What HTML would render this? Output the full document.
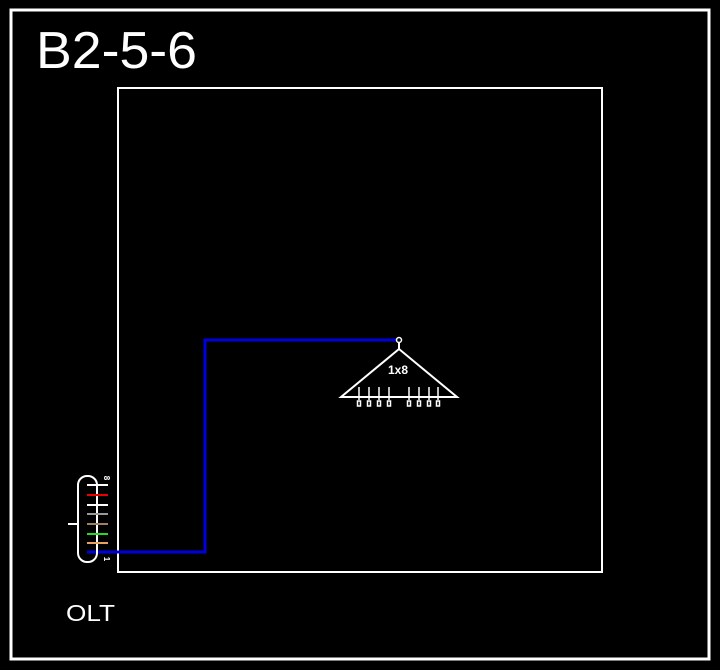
<!DOCTYPE html>
<html><head><style>body{margin:0;background:#000}</style></head><body>
<svg width="720" height="670" xmlns="http://www.w3.org/2000/svg" style="display:block">
<rect x="0" y="0" width="720" height="670" fill="#000"/>
<rect x="11" y="10" width="698" height="649" fill="none" stroke="#fff" stroke-width="3"/>
<text x="36" y="68" font-family="Liberation Sans, sans-serif" font-size="52" fill="#fff" textLength="161" lengthAdjust="spacingAndGlyphs">B2-5-6</text>
<rect x="118" y="88" width="484" height="484" fill="none" stroke="#fff" stroke-width="2"/>
<polyline points="87,552 205,552 205,340 397,340" fill="none" stroke="#0000dd" stroke-width="3"/>
<circle cx="399" cy="340" r="2.5" fill="none" stroke="#fff" stroke-width="1.5"/>
<line x1="399" y1="342" x2="399" y2="349" stroke="#fff" stroke-width="2"/>
<polygon points="399,349 341,397 457,397" fill="none" stroke="#fff" stroke-width="2"/>
<text x="398" y="374" font-family="Liberation Sans, sans-serif" font-size="12" font-weight="bold" fill="#fff" text-anchor="middle">1x8</text>
<g stroke="#fff" stroke-width="1.5" fill="none">
<line x1="359" y1="387" x2="359" y2="400"/><line x1="369" y1="387" x2="369" y2="400"/><line x1="379" y1="387" x2="379" y2="400"/><line x1="389" y1="387" x2="389" y2="400"/>
<line x1="409" y1="387" x2="409" y2="400"/><line x1="419" y1="387" x2="419" y2="400"/><line x1="429" y1="387" x2="429" y2="400"/><line x1="438" y1="387" x2="438" y2="400"/>
<rect x="357.5" y="401" width="3" height="5"/><rect x="367.5" y="401" width="3" height="5"/><rect x="377.5" y="401" width="3" height="5"/><rect x="387.5" y="401" width="3" height="5"/>
<rect x="407.5" y="401" width="3" height="5"/><rect x="417.5" y="401" width="3" height="5"/><rect x="427.5" y="401" width="3" height="5"/><rect x="436.5" y="401" width="3" height="5"/>
<rect x="78" y="476" width="19" height="86" rx="9" ry="9" stroke-width="2"/>
<line x1="68" y1="524" x2="78" y2="524" stroke-width="2"/>
</g>
<g stroke-width="2">
<line x1="87" y1="485" x2="108" y2="485" stroke="#fff"/>
<line x1="87" y1="495" x2="108" y2="495" stroke="#e00"/>
<line x1="87" y1="505" x2="108" y2="505" stroke="#fff"/>
<line x1="87" y1="514" x2="108" y2="514" stroke="#999"/>
<line x1="87" y1="524" x2="108" y2="524" stroke="#a08060"/>
<line x1="87" y1="534" x2="108" y2="534" stroke="#2d2"/>
<line x1="87" y1="543" x2="108" y2="543" stroke="#e9a060"/>
</g>
<text x="104" y="478" font-family="Liberation Sans, sans-serif" font-size="8" font-weight="bold" fill="#fff" text-anchor="middle" transform="rotate(90 104 478)">8</text>
<text x="104" y="559" font-family="Liberation Sans, sans-serif" font-size="8" font-weight="bold" fill="#fff" text-anchor="middle" transform="rotate(90 104 559)">1</text>
<text x="66" y="621" font-family="Liberation Sans, sans-serif" font-size="23" fill="#fff" textLength="49" lengthAdjust="spacingAndGlyphs">OLT</text>
</svg>
</body></html>
